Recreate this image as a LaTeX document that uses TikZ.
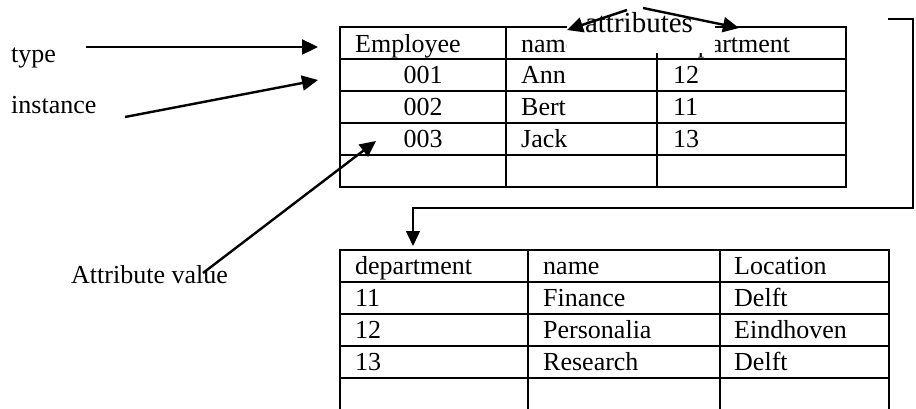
\documentclass[tikz,border=0pt]{standalone}
\usepackage{fontspec}
\setmainfont{Liberation Serif}
\usetikzlibrary{arrows.meta}
\begin{document}
\begin{tikzpicture}[x=1pt,y=-1pt,
  txt/.style={inner sep=0pt, anchor=base west, font=\fontsize{26}{30}\selectfont},
  ctxt/.style={inner sep=0pt, anchor=base, font=\fontsize{26}{30}\selectfont},
  gridline/.style={line width=2.2pt},
  conn/.style={line width=2.4pt, -{Triangle[length=16pt,width=15pt]}},
  elbow/.style={line width=1.4pt, -{Triangle[length=15pt,width=14pt]}}]
\useasboundingbox (0,0) rectangle (916,408);

% ---- top table (Employee) ----
\draw[gridline] (340,27) rectangle (846,187);
\foreach \y in {59,91,123,155} \draw[gridline] (340,\y) -- (846,\y);
\foreach \x in {506,657} \draw[gridline] (\x,27) -- (\x,187);

\node[txt] (eh1) at (355,52) {Employee};
\node[txt] (eh2) at (521,52) {name};
\node[txt] (eh3) at (673,52) {department};
\node[ctxt] (e11) at (423,83) {001};
\node[ctxt] (e21) at (423,115) {002};
\node[ctxt] (e31) at (423,147) {003};
\node[txt] (e12) at (521,83) {Ann};
\node[txt] (e22) at (521,115) {Bert};
\node[txt] (e32) at (521,147) {Jack};
\node[txt] (e13) at (673,83) {12};
\node[txt] (e23) at (673,115) {11};
\node[txt] (e33) at (673,147) {13};

% ---- attributes text box ----
\fill[white] (567,6) rectangle (715,53);
\node[ctxt, font=\fontsize{29}{32}\selectfont] (attr) at (639,32) {attributes};

% ---- bottom table (department) ----
\draw[gridline] (340,412) -- (340,250) -- (889,250) -- (889,412);
\foreach \y in {282,314,346,378} \draw[gridline] (340,\y) -- (889,\y);
\foreach \x in {528,720} \draw[gridline] (\x,250) -- (\x,412);

\node[txt] (dh1) at (355,274) {department};
\node[txt] (dh2) at (543,274) {name};
\node[txt] (dh3) at (734,274) {Location};
\node[txt] (d11) at (355,306) {11};
\node[txt] (d12) at (543,306) {Finance};
\node[txt] (d13) at (734,306) {Delft};
\node[txt] (d21) at (355,338) {12};
\node[txt] (d22) at (543,338) {Personalia};
\node[txt] (d23) at (734,338) {Eindhoven};
\node[txt] (d31) at (355,370) {13};
\node[txt] (d32) at (543,370) {Research};
\node[txt] (d33) at (734,370) {Delft};

% ---- labels ----
\node[txt] (type) at (11,62) {type};
\node[txt] (inst) at (11,113) {instance};
\node[txt] (aval) at (71,283) {Attribute value};

% ---- connector end points ----
\coordinate (typeS) at (86,47);
\coordinate (typeE) at (318,47);
\coordinate (instS) at (125,117);
\coordinate (instE) at (318,80);
\coordinate (avalS) at (203,273);
\coordinate (avalE) at (376,141);
\coordinate (attLS) at (627,10);
\coordinate (attLE) at (567,30);
\coordinate (attRS) at (643,8);
\coordinate (attRE) at (739,28);
\coordinate (fkS) at (888,19);
\coordinate (fkA) at (913,19);
\coordinate (fkB) at (913,208);
\coordinate (fkC) at (413,208);
\coordinate (fkE) at (413,246);

\draw[conn] (typeS) -- (typeE);
\draw[conn] (instS) -- (instE);
\draw[conn] (avalS) -- (avalE);
\draw[conn] (attLS) -- (attLE);
\draw[conn] (attRS) -- (attRE);
\draw[elbow] (fkS) -- (fkA) -- (fkB) -- (fkC) -- (fkE);
\end{tikzpicture}
\end{document}
